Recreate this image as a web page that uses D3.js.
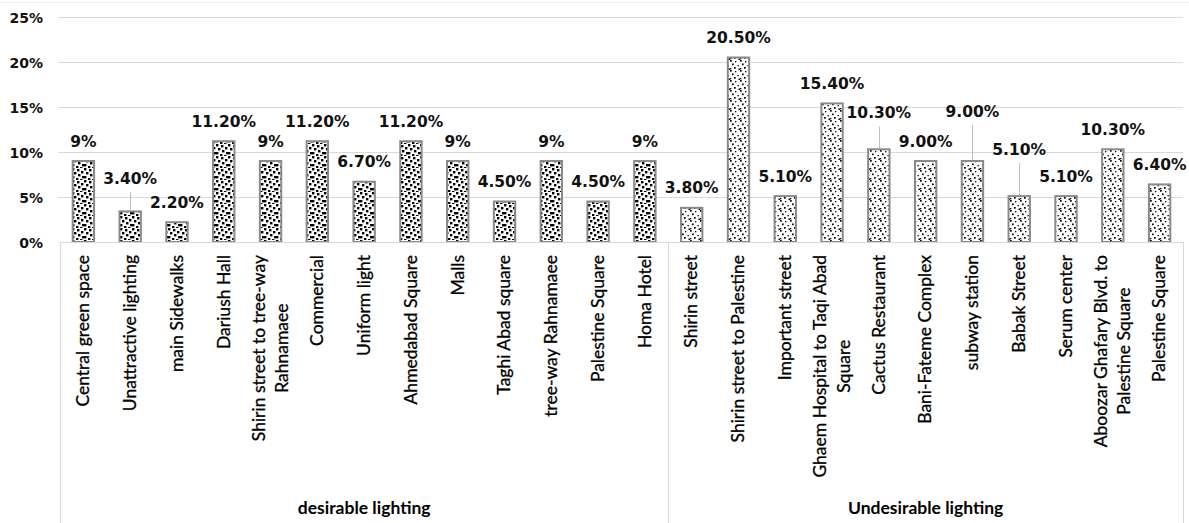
<!DOCTYPE html>
<html>
<head>
<meta charset="utf-8">
<script src="https://cdn.jsdelivr.net/npm/d3@7"></script>
<style>
  html, body { margin: 0; padding: 0; background: #fff; }
  svg { display: block; }
</style>
</head>
<body>
<svg id="chart" width="1189" height="523"></svg>
<script>
// ---------------- DATA ----------------
const groupNames = ["desirable lighting", "Undesirable lighting"];

const desirableCategories = [
  "Central green space", "Unattractive lighting", "main Sidewalks", "Dariush Hall",
  "Shirin street to tree-way\nRahnamaee", "Commercial", "Uniform light", "Ahmedabad Square",
  "Malls", "Taghi Abad square", "tree-way Rahnamaee", "Palestine Square", "Homa Hotel"
];
const desirableValues = [9, 3.4, 2.2, 11.2, 9, 11.2, 6.7, 11.2, 9, 4.5, 9, 4.5, 9];
const desirableLabels = ["9%", "3.40%", "2.20%", "11.20%", "9%", "11.20%", "6.70%", "11.20%", "9%", "4.50%", "9%", "4.50%", "9%"];

const undesirableCategories = [
  "Shirin street", "Shirin street to Palestine", "Important street",
  "Ghaem Hospital to Taqi Abad\nSquare", "Cactus Restaurant", "Bani-Fateme Complex",
  "subway station", "Babak Street", "Serum center",
  "Aboozar Ghafary Blvd. to\nPalestine Square", "Palestine Square"
];
const undesirableValues = [3.8, 20.5, 5.1, 15.4, 10.3, 9.0, 9.0, 5.1, 5.1, 10.3, 6.4];
const undesirableLabels = ["3.80%", "20.50%", "5.10%", "15.40%", "10.30%", "9.00%", "9.00%", "5.10%", "5.10%", "10.30%", "6.40%"];

const yTicks = [0, 5, 10, 15, 20, 25];
const yTickLabels = ["0%", "5%", "10%", "15%", "20%", "25%"];

// ---------------- LAYOUT / STYLE ----------------
const W = 1189, H = 523;
const plot = { left: 60, right: 1183, top: 17, bottom: 242 };
const catTop = 255;
// labels that were dragged upwards (with leader lines), by global index -> extra lift in px
const labelLift = { 1: 13.4, 17: 16.8, 19: 30, 20: 27 };

const rows = [];
desirableCategories.forEach((c, i) => rows.push({ cat: c, v: desirableValues[i], lab: desirableLabels[i], g: 0 }));
undesirableCategories.forEach((c, i) => rows.push({ cat: c, v: undesirableValues[i], lab: undesirableLabels[i], g: 1 }));
rows.forEach((r, i) => r.i = i);

const svg = d3.select("#chart");

// patterns (fixed tile layouts)
const defs = svg.append("defs");
const p1 = defs.append("pattern").attr("id", "patA").attr("patternUnits", "userSpaceOnUse")
  .attr("width", 12).attr("height", 12);
p1.append("rect").attr("width", 12).attr("height", 12).attr("fill", "#fff");
[[0,0],[5,1],[9,3],[2,4],[6,6],[0,8],[10,8],[4,10],[8,11]].forEach(([x, y]) =>
  p1.append("rect").attr("x", x).attr("y", y).attr("width", 2.4).attr("height", 2.4).attr("fill", "#000"));

const p2 = defs.append("pattern").attr("id", "patB").attr("patternUnits", "userSpaceOnUse")
  .attr("width", 10).attr("height", 10);
p2.append("rect").attr("width", 10).attr("height", 10).attr("fill", "#fff");
[[0,0],[5,1],[2,3.5],[7.5,5],[4,7],[0,8],[8.5,8.5]].forEach(([x, y], k) =>
  p2.append("rect").attr("x", x).attr("y", y).attr("width", k % 2 ? 1.3 : 1.7).attr("height", k % 2 ? 1.3 : 1.7).attr("fill", "#000"));

// scales
const x = d3.scaleBand().domain(rows.map(d => d.i)).range([plot.left, plot.right])
  .paddingInner(0.5).paddingOuter(0.25);
const y = d3.scaleLinear().domain([0, 25]).range([plot.bottom, plot.top]);
const step = x.step();

// top faint border
svg.append("line").attr("x1", 0).attr("x2", W).attr("y1", 2.5).attr("y2", 2.5)
  .attr("stroke", "#f0f0f0").attr("stroke-width", 1);

// gridlines
svg.append("g").selectAll("line").data(yTicks.filter(t => t > 0)).join("line")
  .attr("x1", 58).attr("x2", plot.right)
  .attr("y1", d => Math.round(y(d)) + 0.5).attr("y2", d => Math.round(y(d)) + 0.5)
  .attr("stroke", "#d9d9d9").attr("stroke-width", 1);

// y tick labels via axis
const yAxis = svg.append("g").attr("transform", `translate(${plot.left},0)`)
  .call(d3.axisLeft(y).tickValues(yTicks).tickFormat((d, k) => yTickLabels[k]).tickSize(0).tickPadding(17));
yAxis.select(".domain").remove();
yAxis.selectAll("text").attr("font-family", "DejaVu Sans").attr("font-weight", "bold")
  .attr("font-size", 14).attr("fill", "#111").attr("dy", "0.36em");

// bars
svg.append("g").selectAll("rect").data(rows).join("rect")
  .attr("x", d => x(d.i) + 1)
  .attr("y", d => y(d.v))
  .attr("width", x.bandwidth() - 2)
  .attr("height", d => plot.bottom - y(d.v))
  .attr("fill", d => d.g === 0 ? "url(#patA)" : "url(#patB)")
  .attr("stroke", "#8a8a8a").attr("stroke-width", 2);

// x axis baseline
svg.append("line").attr("x1", plot.left).attr("x2", plot.right)
  .attr("y1", plot.bottom + 0.5).attr("y2", plot.bottom + 0.5)
  .attr("stroke", "#d9d9d9").attr("stroke-width", 1);

// category group separators
const groupEdges = [x(0) - step * 0.25, x(13) - step * 0.25, x(23) + x.bandwidth() + step * 0.25];
svg.append("g").selectAll("line").data(groupEdges).join("line")
  .attr("x1", d => Math.round(d) + 0.5).attr("x2", d => Math.round(d) + 0.5)
  .attr("y1", plot.bottom).attr("y2", H)
  .attr("stroke", "#d9d9d9").attr("stroke-width", 1);

// data labels
const labG = svg.append("g");
rows.forEach(d => {
  const cx = x(d.i) + x.bandwidth() / 2;
  const top = y(d.v);
  const lift = labelLift[d.i] || 0;
  const base = top - 14.5 - lift;
  if (lift) {
    labG.append("line").attr("x1", Math.round(cx) + 0.5).attr("x2", Math.round(cx) + 0.5)
      .attr("y1", base + 8.5).attr("y2", top - 1)
      .attr("stroke", "#bfbfbf").attr("stroke-width", 1);
  }
  labG.append("text").attr("x", cx).attr("y", base)
    .attr("text-anchor", "middle")
    .attr("font-family", "DejaVu Sans").attr("font-weight", "bold").attr("font-size", 15.5)
    .attr("fill", "#111").text(d.lab);
});

// category labels (rotated)
const catG = svg.append("g");
const lh = 23.5;
rows.forEach(d => {
  const cx = x(d.i) + x.bandwidth() / 2;
  const lines = d.cat.split("\n");
  const g = catG.append("g");
  const texts = lines.map((ln, k) => g.append("text")
    .attr("text-anchor", "middle")
    .attr("font-family", "Lato").attr("font-size", 17.5).attr("fill", "#000")
    .attr("stroke", "#000").attr("stroke-width", 0.3)
    .attr("x", 0).attr("y", (k - (lines.length - 1) / 2) * lh).attr("dy", "0.33em")
    .text(ln));
  const L = d3.max(texts, t => t.node().getComputedTextLength());
  g.attr("transform", `translate(${cx},${catTop + L / 2}) rotate(-90)`);
});

// group labels
const gCenters = [(groupEdges[0] + groupEdges[1]) / 2, (groupEdges[1] + groupEdges[2]) / 2];
svg.append("g").selectAll("text").data(groupNames).join("text")
  .attr("x", (d, k) => gCenters[k]).attr("y", 514)
  .attr("text-anchor", "middle")
  .attr("font-family", "Lato").attr("font-weight", "bold").attr("font-size", 17.5)
  .attr("fill", "#000").text(d => d);
</script>
</body>
</html>
